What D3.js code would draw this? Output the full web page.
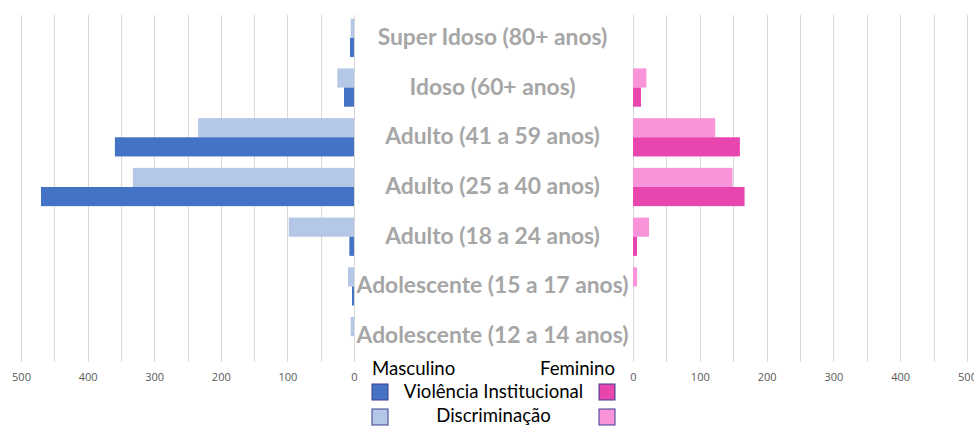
<!DOCTYPE html>
<html>
<head>
<meta charset="utf-8">
<script src="https://cdn.jsdelivr.net/npm/d3@7"></script>
<style>
  html, body { margin: 0; padding: 0; background: #fff; }
  svg { display: block; }
</style>
</head>
<body>
<svg id="chart" width="974" height="426"></svg>
<script>
const categories = [
  "Super Idoso (80+ anos)",
  "Idoso (60+ anos)",
  "Adulto (41 a 59 anos)",
  "Adulto (25 a 40 anos)",
  "Adulto (18 a 24 anos)",
  "Adolescente (15 a 17 anos)",
  "Adolescente (12 a 14 anos)"
];
const seriesNames = ["Discriminação", "Violência Institucional"];
const maleDiscriminacao = [5, 25, 234, 332, 98, 9, 5];
const maleViolencia = [6, 15, 359, 470, 7, 3, 0];
const femaleDiscriminacao = [0, 20, 123, 149, 24, 6, 0];
const femaleViolencia = [0, 12, 160, 167, 6, 0, 0];
const tickValues = [0, 100, 200, 300, 400, 500];
const legendSides = ["Masculino", "Feminino"];

const colors = {
  male: { "Violência Institucional": "#4472C4", "Discriminação": "#B4C7E7" },
  female: { "Violência Institucional": "#E845AE", "Discriminação": "#F994DA" }
};

const svg = d3.select("#chart");
const gridTop = 15, gridBottom = 362;

const xL = d3.scaleLinear().domain([0, 500]).range([354, 21]);
const xR = d3.scaleLinear().domain([0, 500]).range([633, 967]);
const y = d3.scaleBand().domain(categories).range([13, 361]).paddingInner(0.23).paddingOuter(0.115);
const ySub = d3.scaleBand().domain(seriesNames).range([0, y.bandwidth()]);

// gridlines
[xL, xR].forEach(sc => {
  svg.append("g").selectAll("line").data(sc.ticks(10)).join("line")
    .attr("x1", d => Math.round(sc(d)) + 0.5).attr("x2", d => Math.round(sc(d)) + 0.5)
    .attr("y1", gridTop).attr("y2", gridBottom)
    .attr("stroke", "#d9d9d9").attr("stroke-width", 1);
});

const data = categories.map((c, i) => ({
  cat: c,
  male: { "Discriminação": maleDiscriminacao[i], "Violência Institucional": maleViolencia[i] },
  female: { "Discriminação": femaleDiscriminacao[i], "Violência Institucional": femaleViolencia[i] }
}));

const groups = svg.append("g").selectAll("g").data(data).join("g")
  .attr("transform", d => `translate(0,${y(d.cat)})`);

groups.selectAll("rect.m").data(d => seriesNames.map(s => ({ s, v: d.male[s] }))).join("rect")
  .attr("class", "m")
  .attr("x", d => xL(d.v)).attr("width", d => xL(0) - xL(d.v))
  .attr("y", d => ySub(d.s)).attr("height", ySub.bandwidth())
  .attr("fill", d => colors.male[d.s]);

groups.selectAll("rect.f").data(d => seriesNames.map(s => ({ s, v: d.female[s] }))).join("rect")
  .attr("class", "f")
  .attr("x", xR(0)).attr("width", d => xR(d.v) - xR(0))
  .attr("y", d => ySub(d.s)).attr("height", ySub.bandwidth())
  .attr("fill", d => colors.female[d.s]);

// axes
[xL, xR].forEach(sc => {
  const g = svg.append("g").attr("transform", `translate(0,${gridBottom})`)
    .call(d3.axisBottom(sc).tickValues(tickValues).tickSize(0).tickPadding(11));
  g.select(".domain").remove();
  g.selectAll("text").attr("fill", "#595959").attr("font-size", 11)
    .attr("font-family", "'Open Sans', sans-serif");
});

// category labels
const cx = (xL(0) + xR(0)) / 2;
svg.append("g").selectAll("text").data(categories).join("text")
  .attr("x", cx - 1).attr("y", d => y(d) + y.bandwidth() / 2 - 2)
  .attr("text-anchor", "middle").attr("dominant-baseline", "central")
  .attr("font-family", "Lato, sans-serif").attr("font-weight", "bold")
  .attr("font-size", 22.8).attr("fill", "#a6a6a6")
  .text(d => d);

// legend
const lg = svg.append("g").attr("font-family", "Lato, sans-serif").attr("font-size", 18.6).attr("fill", "#000");
lg.append("text").attr("x", 372).attr("y", 375).text(legendSides[0]);
lg.append("text").attr("x", 615).attr("y", 375).attr("text-anchor", "end").text(legendSides[1]);
lg.append("text").attr("x", 493.5).attr("y", 398).attr("text-anchor", "middle").text(seriesNames[1]);
lg.append("text").attr("x", 493.5).attr("y", 422).attr("text-anchor", "middle").text(seriesNames[0]);
const sq = [
  { x: 372, y: 384, c: colors.male["Violência Institucional"] },
  { x: 372, y: 409, c: colors.male["Discriminação"] },
  { x: 599, y: 384, c: colors.female["Violência Institucional"] },
  { x: 599, y: 409, c: colors.female["Discriminação"] }
];
svg.append("g").selectAll("rect").data(sq).join("rect")
  .attr("x", d => d.x).attr("y", d => d.y).attr("width", 16).attr("height", 16)
  .attr("fill", d => d.c).attr("stroke", "#3b3f8f").attr("stroke-width", 1);
</script>
</body>
</html>
